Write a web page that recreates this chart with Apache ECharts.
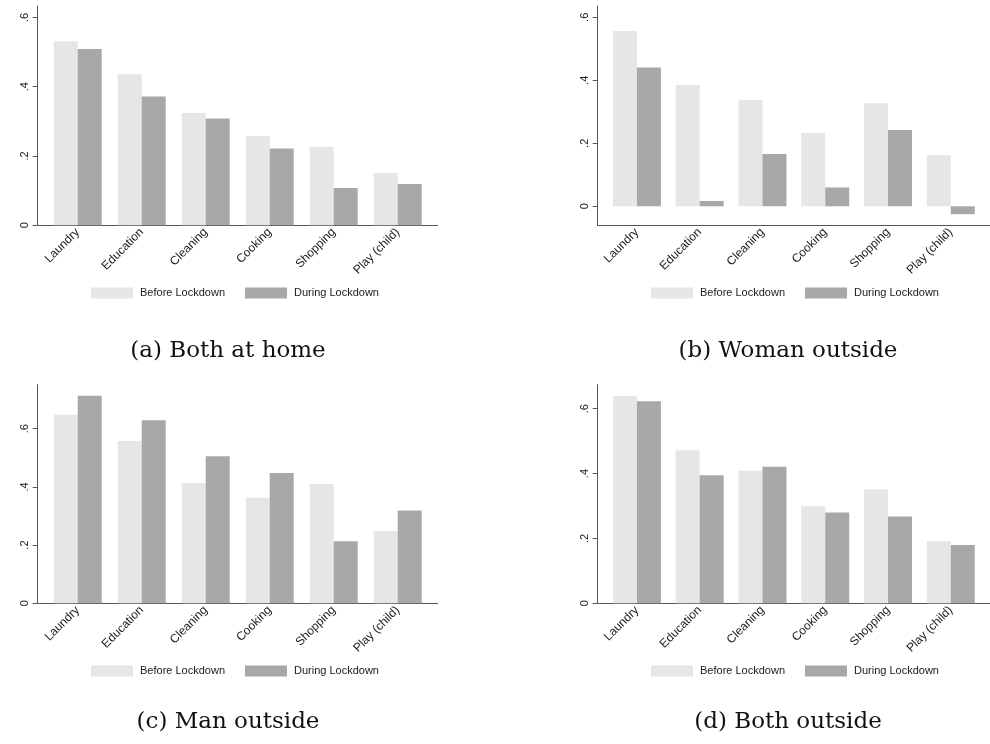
<!DOCTYPE html>
<html>
<head>
<meta charset="utf-8">
<script src="https://cdn.jsdelivr.net/npm/echarts@6/dist/echarts.min.js"></script>
<style>
  html, body { margin: 0; padding: 0; background: #ffffff; }
  #chart { width: 990px; height: 744px; }
</style>
</head>
<body>
<div id="chart"></div>
<script>
// ---- Data ----
const categories = ['Laundry', 'Education', 'Cleaning', 'Cooking', 'Shopping', 'Play (child)'];
const seriesNames = ['Before Lockdown', 'During Lockdown'];
const yTickValues = [0, 0.2, 0.4, 0.6];
const captions = ['(a) Both at home', '(b) Woman outside', '(c) Man outside', '(d) Both outside'];

const bothHomeBefore = [0.531, 0.436, 0.324, 0.258, 0.227, 0.151];
const bothHomeDuring = [0.509, 0.372, 0.308, 0.222, 0.108, 0.119];
const womanOutBefore = [0.557, 0.385, 0.338, 0.233, 0.327, 0.162];
const womanOutDuring = [0.441, 0.017, 0.166, 0.060, 0.242, -0.025];
const manOutBefore = [0.648, 0.558, 0.413, 0.363, 0.410, 0.248];
const manOutDuring = [0.713, 0.629, 0.505, 0.448, 0.213, 0.319];
const bothOutBefore = [0.639, 0.472, 0.409, 0.299, 0.351, 0.191];
const bothOutDuring = [0.623, 0.395, 0.421, 0.280, 0.268, 0.180];

const panelBefore = [bothHomeBefore, womanOutBefore, manOutBefore, bothOutBefore];
const panelDuring = [bothHomeDuring, womanOutDuring, manOutDuring, bothOutDuring];

// ---- Layout / style ----
const panels = [
  { left: 37.7, top: 6, height: 219.3, yMin: 0, yMax: 0.633, legendLeft: 91, legendTop: 287.5, capX: 228, capTop: 340 },
  { left: 597.7, top: 6, height: 219.3, yMin: -0.0603, yMax: 0.636, legendLeft: 651, legendTop: 287.5, capX: 788, capTop: 340 },
  { left: 37.7, top: 384.7, height: 218.6, yMin: 0, yMax: 0.751, legendLeft: 91, legendTop: 665.5, capX: 228, capTop: 711 },
  { left: 597.7, top: 384.7, height: 218.6, yMin: 0, yMax: 0.674, legendLeft: 651, legendTop: 665.5, capX: 788, capTop: 711 }
];
const colorBefore = '#e6e6e6';
const colorDuring = '#a8a8a8';
const axisColor = '#555555';
const textColor = '#1a1a1a';
const sansFont = '"Liberation Sans", Arial, sans-serif';

const grid = [], xAxis = [], yAxis = [], series = [], legend = [], title = [];
panels.forEach((p, k) => {
  grid.push({ left: p.left, top: p.top, width: 400, height: p.height, containLabel: false });
  xAxis.push({
    type: 'value', gridIndex: k, min: -0.625, max: 5.625,
    axisLine: { show: true, onZero: false, lineStyle: { color: axisColor, width: 1 } },
    axisTick: { show: false },
    splitLine: { show: false },
    axisLabel: {
      customValues: categories.map((c, i) => i),
      formatter: v => categories[Math.round(v)] || '',
      rotate: 45, margin: 5, color: textColor, fontFamily: sansFont, fontSize: 12
    }
  });
  yAxis.push({
    type: 'value', gridIndex: k, min: p.yMin, max: p.yMax,
    axisLine: { show: true, onZero: false, lineStyle: { color: axisColor, width: 1 } },
    axisTick: { show: true, length: 5, customValues: yTickValues, lineStyle: { color: axisColor } },
    splitLine: { show: false },
    axisLabel: {
      customValues: yTickValues,
      formatter: v => (v === 0 ? '0' : String(+v.toFixed(1)).replace(/^0/, '')),
      rotate: 90, margin: 7, color: textColor, fontFamily: sansFont, fontSize: 11
    }
  });
  [panelBefore[k], panelDuring[k]].forEach((vals, s) => {
    series.push({
      type: 'bar', name: seriesNames[s], xAxisIndex: k, yAxisIndex: k,
      barWidth: 24, barGap: '0%',
      itemStyle: { color: s === 0 ? colorBefore : colorDuring },
      emphasis: { disabled: true },
      data: vals.map((v, i) => [i, v])
    });
  });
  legend.push({
    data: seriesNames, left: p.legendLeft, top: p.legendTop, padding: 0,
    orient: 'horizontal', itemWidth: 42, itemHeight: 11, itemGap: 20,
    icon: 'rect', selectedMode: false,
    textStyle: { color: textColor, fontFamily: sansFont, fontSize: 11, padding: [0, 0, 0, 2] }
  });
  title.push({
    text: captions[k], left: p.capX, top: p.capTop, textAlign: 'center', padding: 0,
    textStyle: { fontFamily: '"DejaVu Serif", serif', fontWeight: 'normal', fontSize: 23, color: '#111111' }
  });
});

const chart = echarts.init(document.getElementById('chart'), null, { renderer: 'canvas' });
chart.setOption({
  backgroundColor: '#ffffff',
  animation: false,
  title, grid, xAxis, yAxis, series, legend
});
</script>
</body>
</html>
